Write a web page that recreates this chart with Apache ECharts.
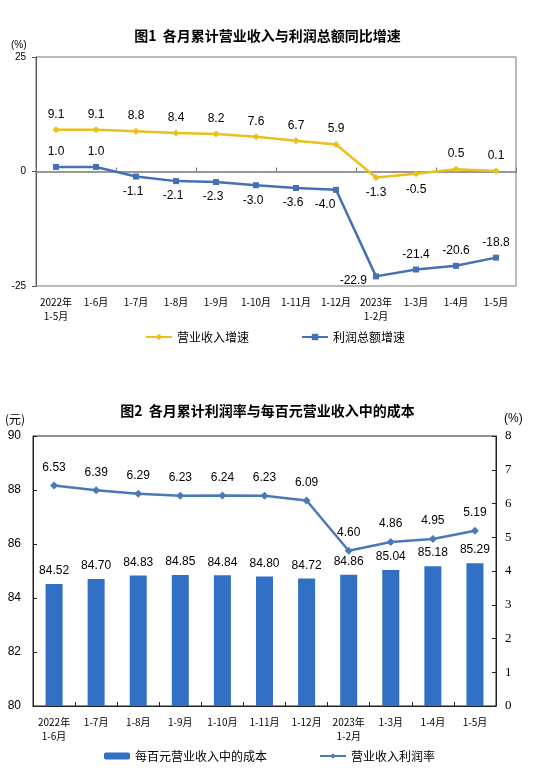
<!DOCTYPE html>
<html>
<head>
<meta charset="utf-8">
<script src="https://cdn.jsdelivr.net/npm/echarts@6/dist/echarts.min.js"></script>
<style>
  html, body { margin: 0; padding: 0; background: #fff; }
  #main { width: 535px; height: 784px; }
</style>
</head>
<body>
<div id="main"></div>
<script>
var chart = echarts.init(document.getElementById('main'));

// 图1 data
var months1 = ['2022年\n1-5月', '1-6月', '1-7月', '1-8月', '1-9月', '1-10月', '1-11月', '1-12月', '2023年\n1-2月', '1-3月', '1-4月', '1-5月'];
var revenueGrowth = [9.1, 9.1, 8.8, 8.4, 8.2, 7.6, 6.7, 5.9, -1.3, -0.5, 0.5, 0.1];
var profitGrowth = [1.0, 1.0, -1.1, -2.1, -2.3, -3.0, -3.6, -4.0, -22.9, -21.4, -20.6, -18.8];

// 图2 data
var months2 = ['2022年\n1-6月', '1-7月', '1-8月', '1-9月', '1-10月', '1-11月', '1-12月', '2023年\n1-2月', '1-3月', '1-4月', '1-5月'];
var costPer100 = [84.52, 84.70, 84.83, 84.85, 84.84, 84.80, 84.72, 84.86, 85.04, 85.18, 85.29];
var profitRate = [6.53, 6.39, 6.29, 6.23, 6.24, 6.23, 6.09, 4.60, 4.86, 4.95, 5.19];

var cjk = '"Noto Sans CJK SC", sans-serif';
var num = 'Arial, "Liberation Sans", sans-serif';

function revItems(list) {
    var out = [];
    for (var i = 0; i < list.length; i++) {
        var pos = list[i] < 0 ? 'bottom' : 'top';
        out.push({ value: list[i], label: { position: pos } });
    }
    return out;
}
function profItems(list) {
    var out = [];
    for (var i = 0; i < list.length; i++) {
        var pos = 'top', off = [0, 0];
        if (i >= 2 && i <= 6) { pos = 'bottom'; off = [-3, 0]; }
        if (i == 7) { pos = 'bottom'; off = [-11, 0]; }
        if (i == 8) { pos = 'left'; off = [0, 4]; }
        out.push({ value: list[i], label: { position: pos, offset: off } });
    }
    return out;
}

var numLabel = {
    show: true,
    fontFamily: num,
    fontSize: 12,
    color: '#000',
    distance: 6,
    formatter: function (p) { return p.value.toFixed(1); }
};

var option = {
    animation: false,
    title: [
        { text: '图1  各月累计营业收入与利润总额同比增速', left: 'center', top: 24,
          textStyle: { fontFamily: cjk, fontSize: 14, fontWeight: 'bold', color: '#000' } },
        { text: '图2  各月累计利润率与每百元营业收入中的成本', left: 'center', top: 399,
          textStyle: { fontFamily: cjk, fontSize: 14, fontWeight: 'bold', color: '#000' } }
    ],
    graphic: [
        { type: 'text', left: 11, top: 40, style: { text: '(%)', font: '10px ' + num, fill: '#000' } },
        { type: 'text', left: 5, top: 413, style: { text: '(元)', font: '12px ' + cjk, fill: '#000' } },
        { type: 'text', left: 504, top: 413, style: { text: '(%)', font: '12px ' + num, fill: '#000' } }
    ],
    legend: [
        { left: 140, top: 326, itemGap: 52, itemWidth: 26, itemHeight: 8,
          textStyle: { fontFamily: cjk, fontSize: 12, color: '#000' },
          data: ['营业收入增速', '利润总额增速'] },
        { left: 99, top: 745, itemGap: 52, itemWidth: 26, itemHeight: 7,
          textStyle: { fontFamily: cjk, fontSize: 12, color: '#000' },
          data: ['每百元营业收入中的成本', '营业收入利润率'] }
    ],
    grid: [
        { left: 36, top: 57, width: 480, height: 229, show: true, borderColor: '#777', borderWidth: 1 },
        { left: 33, top: 436, width: 463, height: 270, show: true, borderColor: '#222', borderWidth: 1 }
    ],
    xAxis: [
        { type: 'category', gridIndex: 0, data: months1, position: 'bottom',
          axisLine: { show: false, onZero: false }, axisTick: { show: false },
          axisLabel: { interval: 0, margin: 9, fontFamily: cjk, fontSize: 10, color: '#000', lineHeight: 14 } },
        { type: 'category', gridIndex: 0, data: months1, position: 'top',
          axisLine: { show: true, onZero: true, lineStyle: { color: '#777', width: 1.5 } },
          axisTick: { show: true, inside: false, length: 4, lineStyle: { color: '#777' } },
          axisLabel: { show: false } },
        { type: 'category', gridIndex: 1, data: months2,
          axisLine: { show: true, onZero: false, lineStyle: { color: '#222' } },
          axisTick: { show: true, inside: true, length: 4, lineStyle: { color: '#222' } },
          axisLabel: { interval: 0, margin: 9, fontFamily: cjk, fontSize: 10, color: '#000', lineHeight: 14 } }
    ],
    yAxis: [
        { type: 'value', gridIndex: 0, min: -25, max: 25, interval: 25,
          axisLine: { show: true, lineStyle: { color: '#555' } },
          axisTick: { show: true, length: 4, lineStyle: { color: '#555' } },
          splitLine: { show: false },
          axisLabel: { fontFamily: num, fontSize: 10, color: '#000', margin: 10 } },
        { type: 'value', gridIndex: 1, min: 80, max: 90, interval: 2, position: 'left',
          axisLine: { show: true, lineStyle: { color: '#222' } },
          axisTick: { show: true, inside: true, length: 4, lineStyle: { color: '#222' } },
          splitLine: { show: false },
          axisLabel: { fontFamily: num, fontSize: 12, color: '#000', margin: 12 } },
        { type: 'value', gridIndex: 1, min: 0, max: 8, interval: 1, position: 'right',
          axisLine: { show: true, lineStyle: { color: '#222' } },
          axisTick: { show: true, inside: true, length: 4, lineStyle: { color: '#222' } },
          splitLine: { show: false },
          axisLabel: { fontFamily: '"Liberation Serif", serif', fontSize: 13, color: '#000', margin: 9 } }
    ],
    series: [
        { name: '营业收入增速', type: 'line', xAxisIndex: 0, yAxisIndex: 0,
          data: revItems(revenueGrowth), symbol: 'diamond', symbolSize: 7,
          itemStyle: { color: '#EBC01A' }, lineStyle: { color: '#EBC01A', width: 2.5 },
          label: numLabel, z: 3 },
        { name: '利润总额增速', type: 'line', xAxisIndex: 0, yAxisIndex: 0,
          data: profItems(profitGrowth), symbol: 'rect', symbolSize: 6,
          itemStyle: { color: '#4470B5' }, lineStyle: { color: '#4470B5', width: 2.5 },
          label: numLabel, z: 3 },
        { name: '每百元营业收入中的成本', type: 'bar', xAxisIndex: 2, yAxisIndex: 1,
          data: costPer100, barWidth: 17,
          itemStyle: { color: '#3170C4' },
          label: { show: true, position: 'top', distance: 7, fontFamily: num, fontSize: 12, color: '#000',
                   formatter: function (p) { return p.value.toFixed(2); } } },
        { name: '营业收入利润率', type: 'line', xAxisIndex: 2, yAxisIndex: 2,
          data: profitRate, symbol: 'diamond', symbolSize: 8,
          itemStyle: { color: '#4A79B8' }, lineStyle: { color: '#4A79B8', width: 2.5 },
          label: { show: true, position: 'top', distance: 8, fontFamily: num, fontSize: 12, color: '#000',
                   formatter: function (p) { return p.value.toFixed(2); } } }
    ]
};

chart.setOption(option);
</script>
</body>
</html>
